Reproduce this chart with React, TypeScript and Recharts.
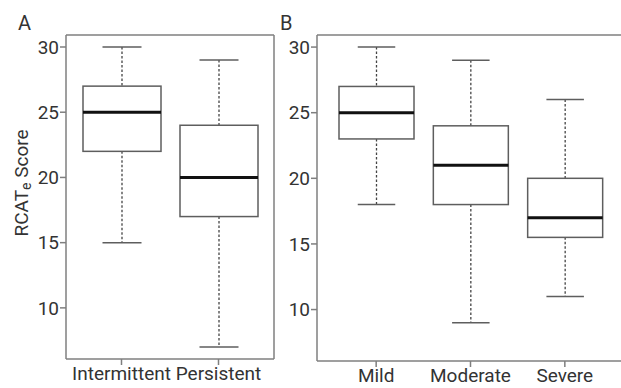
import React from 'react';
import { ComposedChart, Bar, XAxis, YAxis } from 'recharts';

// panel A: asthma type
const groupsA = ['Intermittent', 'Persistent'];
const minA = [15, 7];
const q1A = [22, 17];
const medA = [25, 20];
const q3A = [27, 24];
const maxA = [30, 29];

// panel B: severity
const groupsB = ['Mild', 'Moderate', 'Severe'];
const minB = [18, 9, 11];
const q1B = [23, 18, 15.5];
const medB = [25, 21, 17];
const q3B = [27, 24, 20];
const maxB = [30, 29, 26];

const yTicks = [10, 15, 20, 25, 30];
const yDomain: [number, number] = [6.08, 30.92];

const FRAME = '#7f7f7f';
const BOXLINE = '#5e5e5e';
const TEXT = '#333';
const FONT = 'Roboto, "Noto Sans", sans-serif';

const build = (names: string[], mn: number[], a: number[], m: number[], b: number[], mx: number[]) =>
  names.map((name, i) => ({
    name,
    range: [mn[i], mx[i]],
    min: mn[i],
    q1: a[i],
    med: m[i],
    q3: b[i],
    max: mx[i],
  }));

const dataA = build(groupsA, minA, q1A, medA, q3A, maxA);
const dataB = build(groupsB, minB, q1B, medB, q3B, maxB);

const BoxShape = (props: any) => {
  const { x, y, width, height, payload } = props;
  if (!payload) return null;
  const top = Math.min(y, y + height);
  const bot = Math.max(y, y + height);
  const k = (bot - top) / (payload.max - payload.min);
  const py = (v: number) => bot - (v - payload.min) * k;
  const cx = x + width / 2;
  const cap = width / 4;
  return (
    <g>
      <line x1={cx} x2={cx} y1={py(payload.max)} y2={py(payload.q3)} stroke="#444" strokeWidth={1.3} strokeDasharray="2.5 2" />
      <line x1={cx} x2={cx} y1={py(payload.q1)} y2={py(payload.min)} stroke="#444" strokeWidth={1.3} strokeDasharray="2.5 2" />
      <line x1={cx - cap} x2={cx + cap} y1={py(payload.max)} y2={py(payload.max)} stroke={BOXLINE} strokeWidth={1.5} />
      <line x1={cx - cap} x2={cx + cap} y1={py(payload.min)} y2={py(payload.min)} stroke={BOXLINE} strokeWidth={1.5} />
      <rect x={x} y={py(payload.q3)} width={width} height={py(payload.q1) - py(payload.q3)} fill="#fff" stroke={BOXLINE} strokeWidth={1.5} />
      <line x1={x} x2={x + width} y1={py(payload.med)} y2={py(payload.med)} stroke="#111" strokeWidth={3} />
    </g>
  );
};

const YLabel = () => (
  <text transform="rotate(-90, 28, 183)" x={28} y={183} textAnchor="middle" fill={TEXT} fontSize={19} fontFamily={FONT}>
    <tspan>RCAT</tspan>
    <tspan fontSize={14} dy={3}>e</tspan>
    <tspan dy={-3}> Score</tspan>
  </text>
);

const tickStyle = { fill: TEXT, fontSize: 19, fontFamily: FONT };
const frameLine = { stroke: FRAME, strokeWidth: 1.5 };

export default function App() {
  return (
    <div style={{ position: 'absolute', left: 0, top: 0, width: 621, height: 388, overflow: 'hidden', background: '#fff' }}>
      <div style={{ position: 'absolute', left: 0, top: 0 }}>
        <ComposedChart width={290} height={388} data={dataA} margin={{ top: 34, right: 15, bottom: 0, left: 0 }}>
          <XAxis
            dataKey="name"
            height={29}
            padding={{ left: 7, right: 7 }}
            tick={tickStyle}
            tickSize={6}
            tickMargin={2}
            tickLine={frameLine}
            axisLine={frameLine}
            interval={0}
          />
          <XAxis xAxisId="top" orientation="top" dataKey="name" height={1} tick={false} tickLine={false} axisLine={frameLine} />
          <YAxis
            width={66}
            domain={yDomain}
            ticks={yTicks}
            allowDataOverflow
            tick={tickStyle}
            tickSize={6}
            tickMargin={1}
            tickLine={frameLine}
            axisLine={frameLine}
            label={{ content: YLabel }}
          />
          <YAxis yAxisId="right" orientation="right" width={1} domain={yDomain} allowDataOverflow tick={false} tickLine={false} axisLine={frameLine} />
          <Bar dataKey="range" barSize={78} shape={BoxShape} isAnimationActive={false} />
        </ComposedChart>
      </div>
      <div style={{ position: 'absolute', left: 260, top: 0 }}>
        <ComposedChart width={400} height={388} data={dataB} margin={{ top: 34, right: 0, bottom: 0, left: 0 }}>
          <XAxis
            dataKey="name"
            height={27}
            padding={{ left: 12, right: 48 }}
            tick={tickStyle}
            tickSize={6}
            tickMargin={2}
            tickLine={frameLine}
            axisLine={frameLine}
            interval={0}
          />
          <XAxis xAxisId="top" orientation="top" dataKey="name" height={1} tick={false} tickLine={false} axisLine={frameLine} />
          <YAxis
            width={57}
            domain={yDomain}
            ticks={yTicks}
            allowDataOverflow
            tick={tickStyle}
            tickSize={6}
            tickMargin={1}
            tickLine={frameLine}
            axisLine={frameLine}
          />
          <Bar dataKey="range" barSize={75} shape={BoxShape} isAnimationActive={false} />
        </ComposedChart>
      </div>
      <svg width={621} height={388} style={{ position: 'absolute', left: 0, top: 0, pointerEvents: 'none' }}>
        <text x={18} y={30} fill={TEXT} fontSize={20} fontFamily={FONT}>A</text>
        <text x={280} y={30} fill={TEXT} fontSize={20} fontFamily={FONT}>B</text>
      </svg>
    </div>
  );
}
